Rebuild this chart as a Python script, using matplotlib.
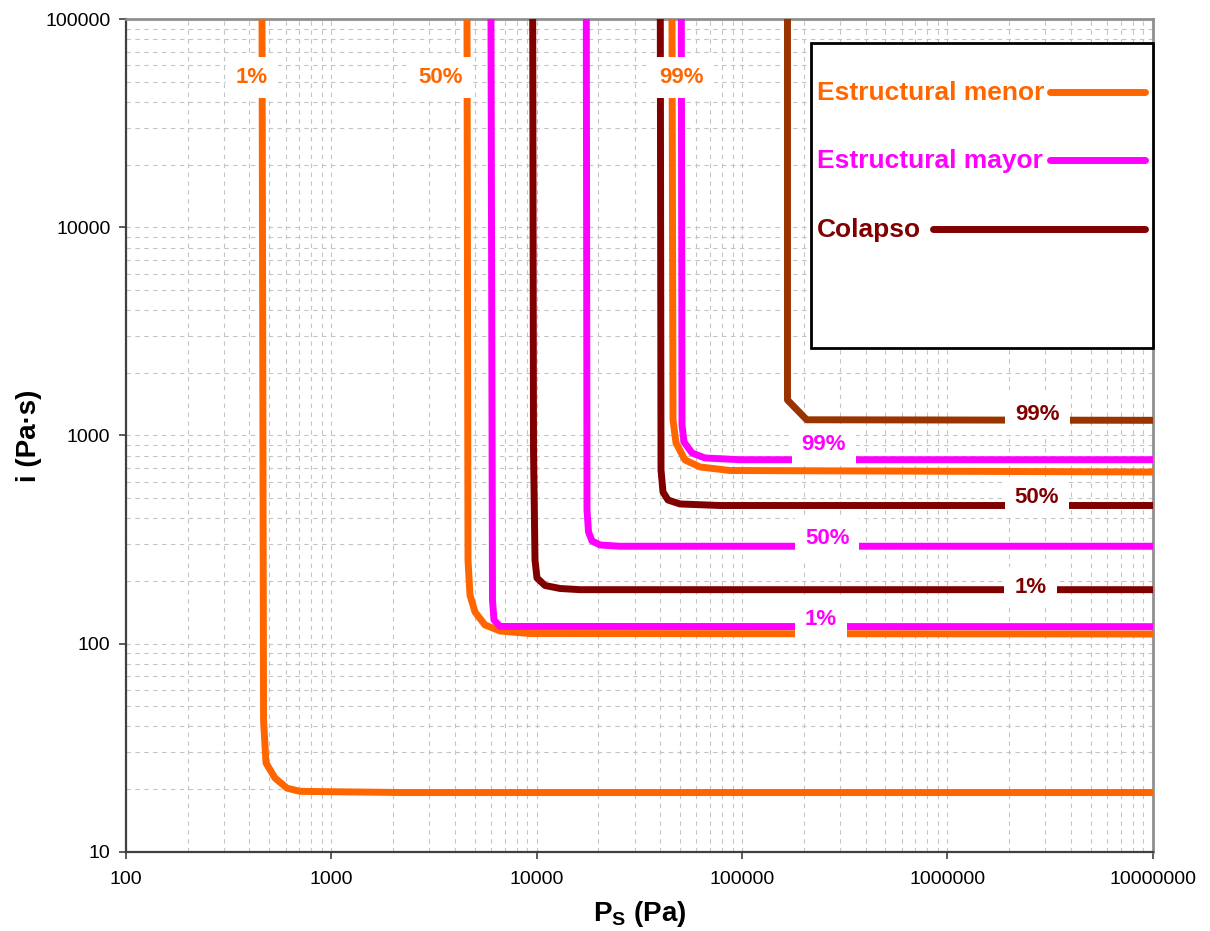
import matplotlib
matplotlib.use("Agg")
import matplotlib.pyplot as plt
from matplotlib.lines import Line2D
from matplotlib.patches import Rectangle
from matplotlib.ticker import FixedLocator, FixedFormatter, LogLocator, NullFormatter

plt.rcParams['font.family'] = ['Liberation Sans', 'DejaVu Sans']
plt.rcParams['mathtext.fontset'] = 'custom'
plt.rcParams['mathtext.rm'] = 'Liberation Sans:bold'
plt.rcParams['mathtext.bf'] = 'Liberation Sans:bold'

# ---------------- data ----------------
x_ticks = [100, 1000, 10000, 100000, 1000000, 10000000]
x_tick_labels = ['100', '1000', '10000', '100000', '1000000', '10000000']
y_ticks = [10, 100, 1000, 10000, 100000]
y_tick_labels = ['10', '100', '1000', '10000', '100000']

# Estructural menor
menor_1_P = [461, 469, 482, 533, 610, 706, 2165, 1e7]
menor_1_I = [1e5, 42.9, 26.7, 22.6, 20.2, 19.5, 19.25, 19.25]
menor_50_P = [4588, 4640, 4745, 5020, 5615, 6643, 9298, 1e7]
menor_50_I = [1e5, 252, 171, 141.8, 122.9, 115, 111.8, 111.2]
menor_99_P = [45670, 46190, 47770, 52840, 62520, 87500, 1e7]
menor_99_I = [1e5, 1187, 920.6, 762.6, 706, 678.9, 667.7]

# Estructural mayor
mayor_1_P = [6003, 6105, 6209, 6643, 1e7]
mayor_1_I = [1e5, 162, 129.8, 120.9, 120.6]
mayor_50_P = [17478, 17616, 17916, 18630, 20380, 25500, 1e7]
mayor_50_I = [1e5, 438.5, 343.9, 311.3, 297.8, 293.6, 293.6]
mayor_99_P = [50700, 51100, 52260, 57170, 66140, 97900, 1e7]
mayor_99_I = [1e5, 1123, 930.6, 823.9, 779.8, 765, 765]

# Colapso
colapso_1_P = [9583, 9670, 9833, 10056, 11000, 13020, 16280, 1e7]
colapso_1_I = [1e5, 851, 252, 206.7, 190.2, 184, 181.6, 181.6]
colapso_50_P = [40063, 40380, 41290, 43680, 49950, 78240, 1e7]
colapso_50_I = [1e5, 682.6, 535.2, 489.8, 468.8, 460.9, 460.9]
colapso_99_P = [166700, 166700, 206800, 1e7]
colapso_99_I = [1e5, 1481, 1190, 1183]

series_names = ['Estructural menor', 'Estructural mayor', 'Colapso']
c_menor = '#FF6600'
c_mayor = '#FF00FF'
c_colapso = '#800000'
c_colapso99 = '#993300'

# curve labels: (text, P, I, colour)
curve_labels = [
    ('1%', 412, 52240, c_menor),
    ('50%', 3427, 52240, c_menor),
    ('99%', 50800, 52240, c_menor),
    ('99%', 2.75e6, 1259, c_colapso),
    ('50%', 2.73e6, 500.8, c_colapso),
    ('1%', 2.54e6, 187, c_colapso),
    ('99%', 2.51e5, 910, c_mayor),
    ('50%', 2.6e5, 319.8, c_mayor),
    ('1%', 2.43e5, 131, c_mayor),
]

# ---------------- figure ----------------
W, H = 1210, 931
fig = plt.figure(figsize=(W / 100, H / 100), dpi=100)
L, R, T, B = 125.7, 1152.7, 19.3, 851.7
ax = fig.add_axes([L / W, 1 - B / H, (R - L) / W, (B - T) / H])
ax.set_xscale('log')
ax.set_yscale('log')
ax.set_xlim(100, 1e7)
ax.set_ylim(10, 1e5)

ax.xaxis.set_major_locator(FixedLocator(x_ticks))
ax.xaxis.set_major_formatter(FixedFormatter(x_tick_labels))
ax.yaxis.set_major_locator(FixedLocator(y_ticks))
ax.yaxis.set_major_formatter(FixedFormatter(y_tick_labels))
ax.xaxis.set_minor_locator(LogLocator(base=10, subs=range(2, 10), numticks=20))
ax.yaxis.set_minor_locator(LogLocator(base=10, subs=range(2, 10), numticks=20))
ax.xaxis.set_minor_formatter(NullFormatter())
ax.yaxis.set_minor_formatter(NullFormatter())

ax.grid(True, which='both', color='#c4c4c4', linestyle=(0, (4, 4)), linewidth=0.8)
ax.set_axisbelow(True)

ax.tick_params(which='major', direction='out', length=5, width=1.2, color='#404040',
               labelsize=14, labelcolor='black')
ax.tick_params(axis='x', which='major', pad=9)
ax.tick_params(axis='y', which='major', pad=6)
ax.tick_params(which='minor', length=0)

for s in ['left', 'bottom']:
    ax.spines[s].set_color('#404040')
    ax.spines[s].set_linewidth(1.6)
for s in ['top', 'right']:
    ax.spines[s].set_color('#909090')
    ax.spines[s].set_linewidth(2)

lw = 5
ax.plot(menor_1_P, menor_1_I, color=c_menor, lw=lw, zorder=3, solid_joinstyle='round')
ax.plot(menor_50_P, menor_50_I, color=c_menor, lw=lw, zorder=3, solid_joinstyle='round')
ax.plot(menor_99_P, menor_99_I, color=c_menor, lw=lw, zorder=3, solid_joinstyle='round')
ax.plot(mayor_1_P, mayor_1_I, color=c_mayor, lw=lw, zorder=4, solid_joinstyle='round')
ax.plot(mayor_50_P, mayor_50_I, color=c_mayor, lw=lw, zorder=4, solid_joinstyle='round')
ax.plot(mayor_99_P, mayor_99_I, color=c_mayor, lw=lw, zorder=4, solid_joinstyle='round')
ax.plot(colapso_1_P, colapso_1_I, color=c_colapso, lw=lw, zorder=5, solid_joinstyle='round')
ax.plot(colapso_50_P, colapso_50_I, color=c_colapso, lw=lw, zorder=5, solid_joinstyle='round')
ax.plot(colapso_99_P, colapso_99_I, color=c_colapso99, lw=lw, zorder=5, solid_joinstyle='round')

for txt, px, iy, col in curve_labels:
    ax.text(px, iy, txt, color=col, fontsize=16, fontweight='bold', ha='center', va='center',
            zorder=10, bbox=dict(boxstyle='square,pad=0.45', fc='white', ec='none'))

ax.set_xlabel(r'P$_\mathbf{S}$ (Pa)', fontsize=20, fontweight='bold', labelpad=8)
ax.set_ylabel('i (Pa·s)', fontsize=20, fontweight='bold', labelpad=2)


# ---------------- manual legend ----------------
def fx(x):
    return x / W


def fy(y):
    return 1 - y / H


fig.add_artist(Rectangle((fx(811), fy(348)), fx(1153) - fx(811), fy(43) - fy(348),
                         transform=fig.transFigure, facecolor='white', edgecolor='black',
                         linewidth=2, zorder=20))
leg_items = [
    (series_names[0], c_menor, 92, 1050),
    (series_names[1], c_mayor, 160, 1050),
    (series_names[2], c_colapso, 229, 933),
]
for name, col, yy, x0 in leg_items:
    fig.text(fx(817), fy(yy + 1), name, color=col, fontsize=19, fontweight='bold',
             ha='left', va='center', zorder=21)
    fig.add_artist(Line2D([fx(x0), fx(1145)], [fy(yy), fy(yy)], transform=fig.transFigure,
                          color=col, lw=5, solid_capstyle='round', zorder=21))

fig.savefig('out.png', dpi=100)
